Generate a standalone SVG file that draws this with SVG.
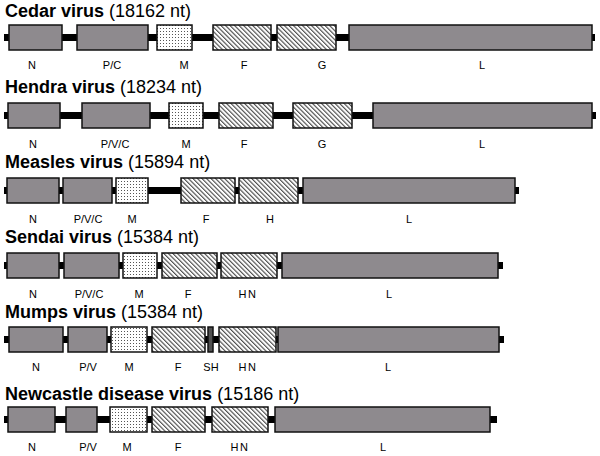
<svg xmlns="http://www.w3.org/2000/svg" width="600" height="456" viewBox="0 0 600 456">
<defs>
<pattern id="dots" width="3" height="3" patternUnits="userSpaceOnUse">
<rect width="3" height="3" fill="#fff"/>
<rect x="1" y="1" width="1" height="1" fill="#555"/>
</pattern>
<pattern id="hatch" width="3.2" height="3.2" patternUnits="userSpaceOnUse" patternTransform="rotate(-45)">
<rect width="3.2" height="3.2" fill="#fff"/>
<line x1="0.6" y1="0" x2="0.6" y2="3.2" stroke="#333" stroke-width="1"/>
</pattern>
</defs>
<style>
.t{font-family:"Liberation Sans",Arial,sans-serif;font-size:18px;fill:#000}
.t .b{font-weight:bold}
.lb{font-family:"Liberation Sans",Arial,sans-serif;font-size:11px;fill:#000;text-anchor:middle}
.g{fill:#8e8a8e;stroke:#111;stroke-width:1.5}
.m{fill:url(#dots);stroke:#111;stroke-width:1.5}
.h{fill:url(#hatch);stroke:#111;stroke-width:1.5}
.s{fill:#505050;stroke:#111;stroke-width:1.5}
.ln{stroke:#000;stroke-width:7;fill:none}
</style>
<rect width="600" height="456" fill="#fff"/>
<g id="connectors">
<line class="ln" x1="4" y1="37.5" x2="595" y2="37.5"/>
<line class="ln" x1="4" y1="115.5" x2="596" y2="115.5"/>
<line class="ln" x1="4" y1="190.5" x2="519" y2="190.5"/>
<line class="ln" x1="4" y1="265.5" x2="503" y2="265.5"/>
<line class="ln" x1="4" y1="339.5" x2="504" y2="339.5"/>
<line class="ln" x1="4" y1="419.5" x2="497" y2="419.5"/>
</g>
<g id="cedar">
<text class="t" x="5" y="17"><tspan class="b">Cedar virus</tspan> (18162 nt)</text>
<g id="cedar-N"><rect class="g" x="9" y="25" width="53" height="25"/><text class="lb" x="32" y="69">N</text></g>
<g id="cedar-PC"><rect class="g" x="77" y="25" width="71" height="25"/><text class="lb" x="112" y="69">P/C</text></g>
<g id="cedar-M"><rect class="m" x="157" y="25" width="35" height="25"/><text class="lb" x="184" y="69">M</text></g>
<g id="cedar-F"><rect class="h" x="213" y="25" width="58" height="25"/><text class="lb" x="244" y="69">F</text></g>
<g id="cedar-G"><rect class="h" x="277" y="25" width="59" height="25"/><text class="lb" x="322" y="69">G</text></g>
<g id="cedar-L"><rect class="g" x="349" y="25" width="243" height="25"/><text class="lb" x="482" y="69">L</text></g>
</g>
<g id="hendra">
<text class="t" x="5" y="93"><tspan class="b">Hendra virus</tspan> (18234 nt)</text>
<g id="hendra-N"><rect class="g" x="8" y="103" width="52" height="25"/><text class="lb" x="33" y="148">N</text></g>
<g id="hendra-PVC"><rect class="g" x="82" y="103" width="68" height="25"/><text class="lb" x="115" y="148">P/V/C</text></g>
<g id="hendra-M"><rect class="m" x="169" y="103" width="34" height="25"/><text class="lb" x="186" y="148">M</text></g>
<g id="hendra-F"><rect class="h" x="219" y="103" width="54" height="25"/><text class="lb" x="244" y="148">F</text></g>
<g id="hendra-G"><rect class="h" x="293" y="103" width="59" height="25"/><text class="lb" x="322" y="148">G</text></g>
<g id="hendra-L"><rect class="g" x="373" y="103" width="219" height="25"/><text class="lb" x="482" y="148">L</text></g>
</g>
<g id="measles">
<text class="t" x="5" y="168"><tspan class="b">Measles virus</tspan> (15894 nt)</text>
<g id="measles-N"><rect class="g" x="7" y="178" width="52" height="25"/><text class="lb" x="33" y="223">N</text></g>
<g id="measles-PVC"><rect class="g" x="63" y="178" width="49" height="25"/><text class="lb" x="88" y="223">P/V/C</text></g>
<g id="measles-M"><rect class="m" x="116" y="178" width="32" height="25"/><text class="lb" x="132" y="223">M</text></g>
<g id="measles-F"><rect class="h" x="181" y="178" width="54" height="25"/><text class="lb" x="206" y="223">F</text></g>
<g id="measles-H"><rect class="h" x="239" y="178" width="59" height="25"/><text class="lb" x="270" y="223">H</text></g>
<g id="measles-L"><rect class="g" x="303" y="178" width="212" height="25"/><text class="lb" x="409" y="223">L</text></g>
</g>
<g id="sendai">
<text class="t" x="5" y="243"><tspan class="b">Sendai virus</tspan> (15384 nt)</text>
<g id="sendai-N"><rect class="g" x="7" y="253" width="52" height="25"/><text class="lb" x="33" y="298">N</text></g>
<g id="sendai-PVC"><rect class="g" x="64" y="253" width="55" height="25"/><text class="lb" x="89" y="298">P/V/C</text></g>
<g id="sendai-M"><rect class="m" x="123" y="253" width="34" height="25"/><text class="lb" x="139" y="298">M</text></g>
<g id="sendai-F"><rect class="h" x="162" y="253" width="55" height="25"/><text class="lb" x="188" y="298">F</text></g>
<g id="sendai-HN"><rect class="h" x="221" y="253" width="56" height="25"/><text class="lb" x="248" y="298" letter-spacing="1.5">HN</text></g>
<g id="sendai-L"><rect class="g" x="282" y="253" width="216" height="25"/><text class="lb" x="389" y="298">L</text></g>
</g>
<g id="mumps">
<text class="t" x="5" y="318"><tspan class="b">Mumps virus</tspan> (15384 nt)</text>
<g id="mumps-N"><rect class="g" x="9" y="327" width="54" height="25"/><text class="lb" x="36" y="371">N</text></g>
<g id="mumps-PV"><rect class="g" x="68" y="327" width="39" height="25"/><text class="lb" x="88" y="371">P/V</text></g>
<g id="mumps-M"><rect class="m" x="111" y="327" width="36" height="25"/><text class="lb" x="129" y="371">M</text></g>
<g id="mumps-F"><rect class="h" x="152" y="327" width="53" height="25"/><text class="lb" x="178" y="371">F</text></g>
<g id="mumps-SH"><rect class="s" x="208" y="327" width="5" height="25"/><text class="lb" x="211" y="371">SH</text></g>
<g id="mumps-HN"><rect class="h" x="219" y="327" width="57" height="25"/><text class="lb" x="248" y="371" letter-spacing="1.5">HN</text></g>
<g id="mumps-L"><rect class="g" x="278" y="327" width="221" height="25"/><text class="lb" x="388" y="371">L</text></g>
</g>
<g id="newcastle">
<text class="t" x="5" y="400"><tspan class="b">Newcastle disease virus</tspan> (15186 nt)</text>
<g id="ndv-N"><rect class="g" x="8" y="407" width="47" height="25"/><text class="lb" x="32" y="451">N</text></g>
<g id="ndv-PV"><rect class="g" x="66" y="407" width="31" height="25"/><text class="lb" x="88" y="451">P/V</text></g>
<g id="ndv-M"><rect class="m" x="110" y="407" width="37" height="25"/><text class="lb" x="127" y="451">M</text></g>
<g id="ndv-F"><rect class="h" x="152" y="407" width="53" height="25"/><text class="lb" x="178" y="451">F</text></g>
<g id="ndv-HN"><rect class="h" x="212" y="407" width="56" height="25"/><text class="lb" x="240" y="451" letter-spacing="1.5">HN</text></g>
<g id="ndv-L"><rect class="g" x="275" y="407" width="215" height="25"/><text class="lb" x="383" y="451">L</text></g>
</g>
</svg>
